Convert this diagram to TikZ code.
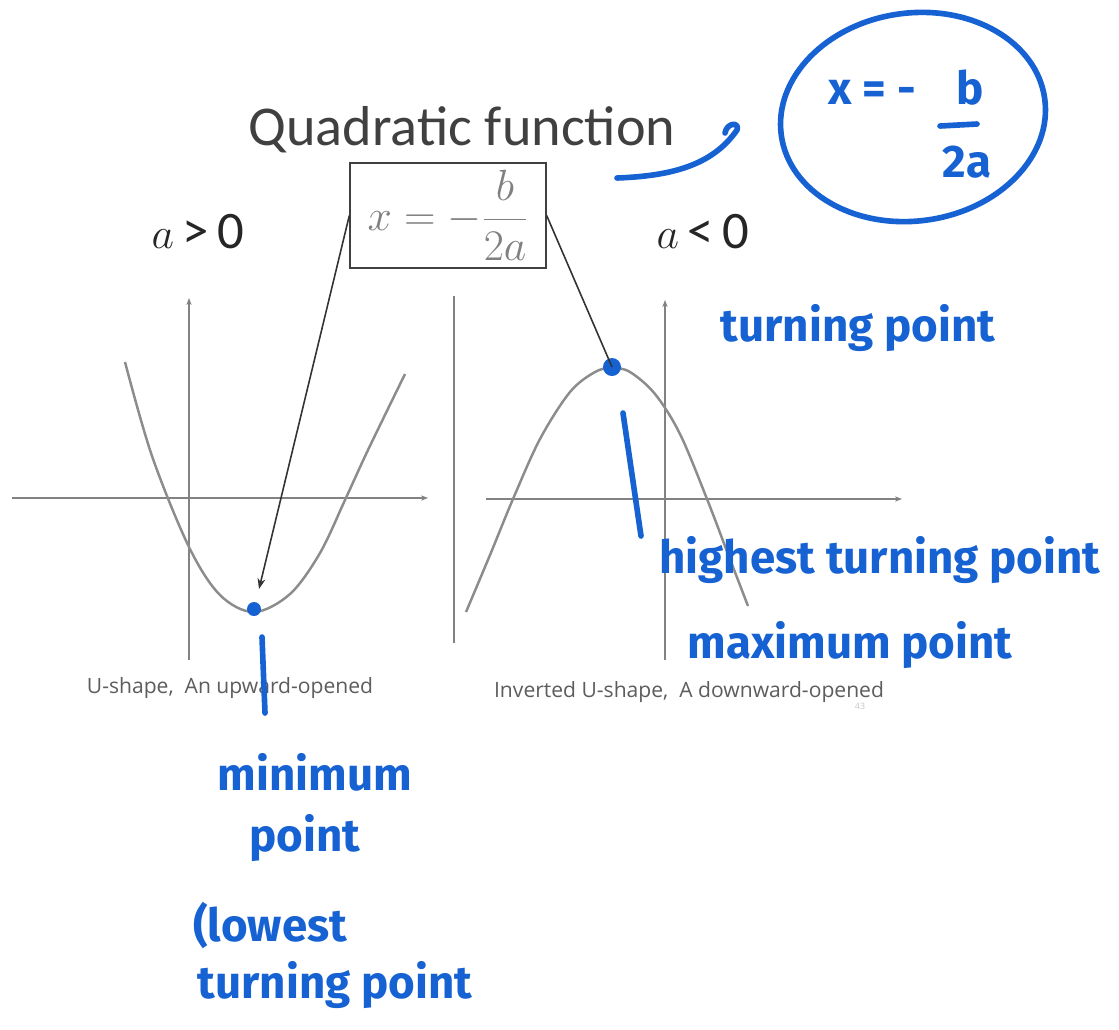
\documentclass[tikz,border=0pt]{standalone}
\usepackage{fontspec}
\setmainfont{Carlito}
\newfontfamily\hand{Fira Sans}
\newfontfamily\capfont{Open Sans}
\usetikzlibrary{arrows.meta}
\definecolor{pen}{RGB}{22,98,210}
\definecolor{ink}{RGB}{64,64,64}
\definecolor{axisgray}{RGB}{130,130,130}
\definecolor{curvegray}{RGB}{140,140,140}
\begin{document}
\begin{tikzpicture}[x=0.02cm,y=-0.02cm,
  titletext/.style={text=ink, font=\fontsize{32}{38}\selectfont, inner sep=0pt},
  condtext/.style={text=black!85, font=\fontsize{30}{34}\selectfont, inner sep=0pt},
  formbox/.style={draw=ink, line width=0.8pt, minimum width=3.92cm, minimum height=2.1cm, inner sep=0pt, text=gray, font=\fontsize{24}{28}\selectfont},
  axisline/.style={draw=axisgray, line width=0.6pt},
  curveline/.style={draw=curvegray, line width=1.4pt},
  conn/.style={draw=black!80, line width=0.9pt},
  dotL/.style={circle, fill=pen, inner sep=0pt, minimum size=0.28cm},
  dotR/.style={circle, fill=pen, inner sep=0pt, minimum size=0.36cm},
  penline/.style={draw=pen, line width=3.2pt, line cap=round, line join=round},
  handtext/.style={text=pen, font=\hand\bfseries\fontsize{26}{30}\selectfont, inner sep=0pt},
  captext/.style={text=ink!85, font=\capfont\fontsize{12}{14}\selectfont, inner sep=0pt}
]
\useasboundingbox (0,0) rectangle (1119,1029);
\fill[white] (0,0) rectangle (1119,1029);

% titles
\node[titletext] (title) at (462,130) {Quadratic function};
\node[condtext] (condL) at (198,232) {$a$\,>\,0};
\node[condtext] (condR) at (703,232) {$a$\,<\,0};
\node[formbox] (box) at (448,215.5) {$\displaystyle x=-\frac{b}{2a}$};

% left graph
\draw[axisline,-{Stealth[length=4pt,width=3pt]}] (12,498) -- (428,498);
\draw[axisline,-{Stealth[length=4pt,width=3pt]}] (189,660) -- (189,298);
\draw[curveline] plot[smooth, tension=0.55] coordinates {(125,362) (152,456) (189,547) (220,595) (254,612) (290,594) (320,553) (345,500) (368,450) (405,374)};

% right graph
\draw[draw=axisgray, line width=1.3pt] (454,296) -- (454,643);
\draw[axisline,-{Stealth[length=4pt,width=3pt]}] (486,499) -- (902,499);
\draw[axisline,-{Stealth[length=4pt,width=3pt]}] (665,660) -- (665,300);
\draw[curveline] plot[smooth, tension=0.55] coordinates {(466,612) (490,555) (513,499) (540,439) (570,392) (595,372) (612,368) (630,372) (655,394) (680,434) (707,499) (728,554) (748,606)};

% captions
\node[captext] (capL) at (230,688) {U-shape,\ \ An upward-opened};
\node[captext] (capR) at (689,692) {Inverted U-shape,\ \ A downward-opened};
\node[text=gray!45, font=\capfont\fontsize{5}{6}\selectfont, inner sep=0pt] (pagenum) at (860,706) {43};

% dots and connectors
\node[dotL] (mindot) at (254,609) {};
\node[dotR] (maxdot) at (612,367) {};
\coordinate (mintip) at (259,589);
\draw[conn,-{Stealth[length=6pt,width=4.5pt]}] (box.west) -- (mintip);
\draw[conn] (box.east) -- (maxdot.center);

% handwritten annotations
\draw[penline] (617,178) .. controls (670,176) and (712,166) .. (737,130)
  .. controls (740,122) and (727,122) .. (725,133);
\draw[penline, rotate around={8:(913,117)}] (913,117) ellipse [x radius=2.66cm, y radius=2.08cm];
\node[handtext] (hx) at (872,92) {x = -};
\node[handtext] (hb) at (970,88) {b};
\draw[penline] (940,126) -- (977,124);
\node[handtext] (h2a) at (967,162) {2a};

\node[handtext] (turnpt) at (858,328) {turning point};
\draw[penline] (623,413) -- (641,536);
\node[handtext] (highest) at (880,560) {highest turning point};
\node[handtext] (maxpt) at (850,645) {maximum point};

\draw[penline] (262,637) -- (265,713);
\node[handtext] (minw) at (315,772) {minimum};
\node[handtext] (minp) at (305,838) {point};
\node[handtext] (lowest) at (270,925) {(lowest};
\node[handtext] (turn2) at (335,985) {turning point};
\end{tikzpicture}
\end{document}
